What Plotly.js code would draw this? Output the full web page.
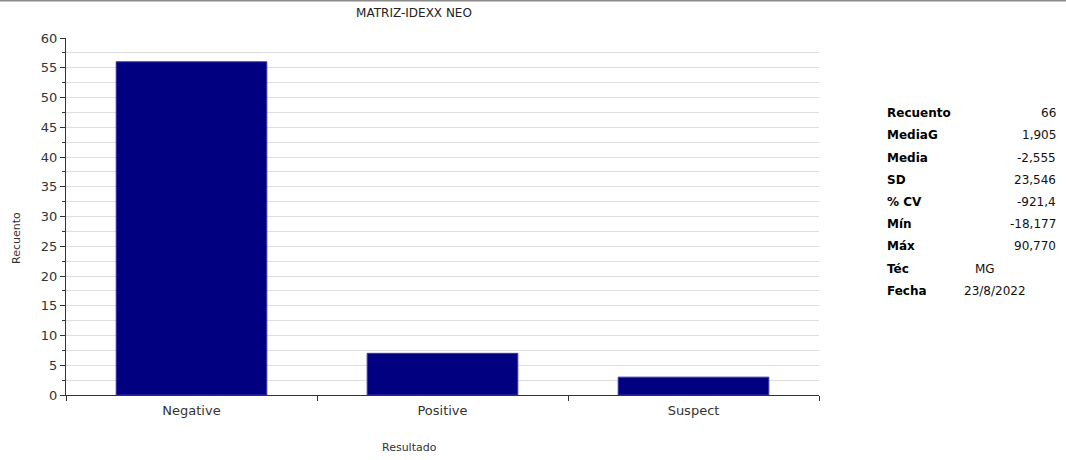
<!DOCTYPE html>
<html>
<head>
<meta charset="utf-8">
<script src="https://cdn.plot.ly/plotly-3.0.1.min.js"></script>
<style>
  html, body { margin: 0; padding: 0; background: #fff; }
  #chart { width: 1066px; height: 460px; }
</style>
</head>
<body>
<div id="chart"></div>
<script>
const categories = ["Negative", "Positive", "Suspect"];
const counts = [56, 7, 3];

const statLabels = ["Recuento", "MediaG", "Media", "SD", "% CV", "Mín", "Máx", "Téc", "Fecha"];
const statValues = ["66", "1,905", "-2,555", "23,546", "-921,4", "-18,177", "90,770", "MG", "23/8/2022"];

const W = 1066, H = 460;
const M = { l: 66, r: 247, t: 38, b: 65 };
const pw = W - M.l - M.r, ph = H - M.t - M.b;
const px = x => (x - M.l) / pw;            // pixel -> paper x
const py = y => (H - M.b - y) / ph;        // pixel -> paper y

const FONT = "DejaVu Sans, Verdana, sans-serif";
const annotations = [];

// stats table
const rowY0 = 113, rowStep = 22.25;
statLabels.forEach((lab, i) => {
  const y = py(rowY0 + i * rowStep);
  annotations.push({
    xref: "paper", yref: "paper", x: px(885), y: y,
    xanchor: "left", yanchor: "middle", showarrow: false,
    text: "<b>" + lab + "</b>",
    font: { family: FONT, size: 12, color: "#000" }
  });
  const v = statValues[i];
  let ann;
  if (lab === "Téc") {
    ann = { x: px(973), xanchor: "left" };
  } else if (lab === "Fecha") {
    ann = { x: px(962), xanchor: "left" };
  } else {
    ann = { x: px(1058), xanchor: "right" };
  }
  annotations.push(Object.assign({
    xref: "paper", yref: "paper", y: y,
    yanchor: "middle", showarrow: false,
    text: v,
    font: { family: FONT, size: 12, color: "#111" }
  }, ann));
});

// axis titles placed as annotations for exact positioning
annotations.push({
  xref: "paper", yref: "paper", x: px(409), y: py(447),
  xanchor: "center", yanchor: "middle", showarrow: false,
  text: "Resultado", font: { family: FONT, size: 11, color: "#333" }
});
annotations.push({
  xref: "paper", yref: "paper", x: px(16), y: py(238),
  xanchor: "center", yanchor: "middle", showarrow: false, textangle: -90,
  text: "Recuento", font: { family: FONT, size: 11, color: "#333" }
});

const trace = {
  type: "bar",
  x: categories,
  y: counts,
  width: 0.6,
  marker: { color: "#000080", line: { color: "#3535a8", width: 1 } },
  hoverinfo: "x+y"
};

const layout = {
  width: W, height: H,
  margin: M,
  paper_bgcolor: "#fff",
  plot_bgcolor: "#fff",
  showlegend: false,
  font: { family: FONT, color: "#333" },
  title: {
    text: "MATRIZ-IDEXX NEO",
    font: { family: FONT, size: 12, color: "#222" },
    x: 414 / W, xanchor: "center", xref: "container",
    y: 1 - 13 / H, yanchor: "middle", yref: "container"
  },
  xaxis: {
    type: "category",
    range: [-0.5, 2.5],
    tickson: "boundaries",
    ticks: "outside", ticklen: 5, tickwidth: 1, tickcolor: "#333",
    ticklabelstandoff: 3,
    showline: true, linecolor: "#333", linewidth: 1,
    showgrid: false, zeroline: false,
    tickfont: { family: FONT, size: 13, color: "#333" },
    fixedrange: true
  },
  yaxis: {
    range: [0, 60],
    dtick: 5, tick0: 0,
    ticks: "outside", ticklen: 5, tickwidth: 1, tickcolor: "#333",
    showline: true, linecolor: "#333", linewidth: 1,
    showgrid: true, gridcolor: "#dedede", gridwidth: 1,
    zeroline: false,
    tickfont: { family: FONT, size: 13, color: "#333" },
    minor: { dtick: 2.5, ticks: "outside", ticklen: 3, tickcolor: "#333", showgrid: true, gridcolor: "#dedede" },
    fixedrange: true
  },
  annotations: annotations,
  shapes: [{
    type: "line", xref: "paper", yref: "paper",
    x0: px(0), x1: px(W), y0: py(0.5), y1: py(0.5),
    line: { color: "#8a8a8a", width: 2 }
  }]
};

Plotly.newPlot("chart", [trace], layout, { displayModeBar: false, staticPlot: true });
</script>
</body>
</html>
